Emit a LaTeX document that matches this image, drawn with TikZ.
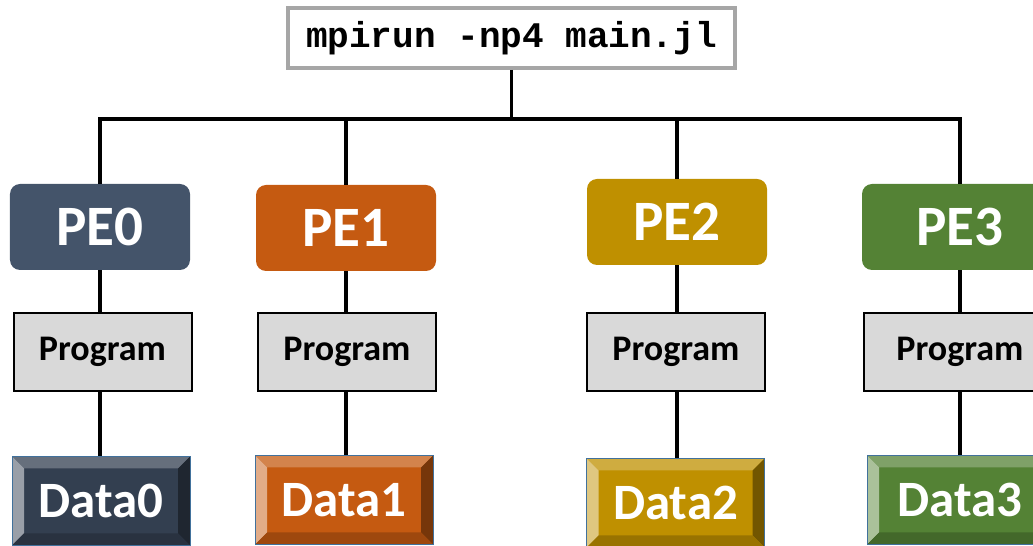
\documentclass[tikz,border=0pt]{standalone}
\usepackage{fontspec}
\setsansfont{Carlito}
\setmonofont{Liberation Mono}
\usepackage{tikz}

\definecolor{slate}{HTML}{44546A}
\definecolor{slatedk}{HTML}{333F50}
\definecolor{rust}{HTML}{C55A11}
\definecolor{mustard}{HTML}{BF9000}
\definecolor{moss}{HTML}{548235}
\definecolor{progfill}{HTML}{D9D9D9}
\definecolor{cmdline}{HTML}{A6A6A6}
\definecolor{edgeblue}{HTML}{41719C}

\begin{document}
\begin{tikzpicture}[
  wire/.style={line width=0.075cm},
  cmdbox/.style={draw=cmdline,line width=0.08cm,minimum width=8.94cm,minimum height=1.2cm,
    font=\ttfamily\bfseries\fontsize{20.5}{22}\selectfont},
  pebox/.style={fill=#1,rounded corners=0.2cm,minimum width=3.6cm,minimum height=1.72cm,
    text=white,font=\sffamily\bfseries\fontsize{32.5}{34}\selectfont},
  progbox/.style={draw,fill=progfill,line width=0.04cm,minimum width=3.56cm,minimum height=1.56cm,
    font=\sffamily\bfseries\fontsize{20.5}{22}\selectfont},
  databox/.style={draw=edgeblue,line width=0.5pt,fill=#1,minimum width=3.56cm,minimum height=1.78cm,
    text=white,font=\sffamily\bfseries\fontsize{29}{31}\selectfont,
    path picture={
      \fill[#1!75!white] (path picture bounding box.north west) -- (path picture bounding box.north east)
        -- ([shift={(-.24,-.24)}]path picture bounding box.north east) -- ([shift={(.24,-.24)}]path picture bounding box.north west) -- cycle;
      \fill[#1!50!white] (path picture bounding box.north west) -- ([shift={(.24,-.24)}]path picture bounding box.north west)
        -- ([shift={(.24,.24)}]path picture bounding box.south west) -- (path picture bounding box.south west) -- cycle;
      \fill[#1!60!black] (path picture bounding box.north east) -- (path picture bounding box.south east)
        -- ([shift={(-.24,.24)}]path picture bounding box.south east) -- ([shift={(-.24,-.24)}]path picture bounding box.north east) -- cycle;
      \fill[#1!80!black] (path picture bounding box.south west) -- (path picture bounding box.south east)
        -- ([shift={(-.24,.24)}]path picture bounding box.south east) -- ([shift={(.24,.24)}]path picture bounding box.south west) -- cycle;
    }}
]
\useasboundingbox (0,0) rectangle (20.66,-10.92);
\clip (0,0) rectangle (20.66,-10.92); %right column runs off the page

\node[cmdbox] (top) at (10.23,-0.76) {mpirun -np4 main.jl};
\coordinate (bus) at (10.23,-2.38);

\node[pebox=slate] (pe0) at (2.0,-4.54) {PE0};
\node[pebox=rust] (pe1) at (6.92,-4.56) {PE1};
\node[pebox=mustard] (pe2) at (13.54,-4.44) {PE2};
\node[pebox=moss,minimum width=3.92cm] (pe3) at (19.2,-4.54) {PE3};

\node[progbox] (prog0) at (2.05,-7.04) {Program};
\node[progbox] (prog1) at (6.94,-7.04) {Program};
\node[progbox] (prog2) at (13.52,-7.04) {Program};
\node[progbox,minimum width=3.84cm] (prog3) at (19.2,-7.04) {Program};

\node[databox=slatedk] (data0) at (2.02,-10.02) {Data0};
\node[databox=rust] (data1) at (6.88,-10.0) {Data1};
\node[databox=mustard] (data2) at (13.51,-10.06) {Data2};
\node[databox=moss,minimum width=3.72cm] (data3) at (19.2,-10.0) {Data3};

% tree of wires
\draw[wire] (top) -- (bus);
\draw[wire] (pe0.north) |- (bus) -| (pe3.north);
\draw[wire] (bus -| pe1.north) -- (pe1.north);
\draw[wire] (bus -| pe2.north) -- (pe2.north);
\foreach \i in {0,1,2,3} {
  \draw[wire] (pe\i.south) -- (prog\i.north -| pe\i.south);
  \draw[wire] (prog\i.south -| pe\i.south) -- (data\i.north -| pe\i.south);
}
\end{tikzpicture}
\end{document}
